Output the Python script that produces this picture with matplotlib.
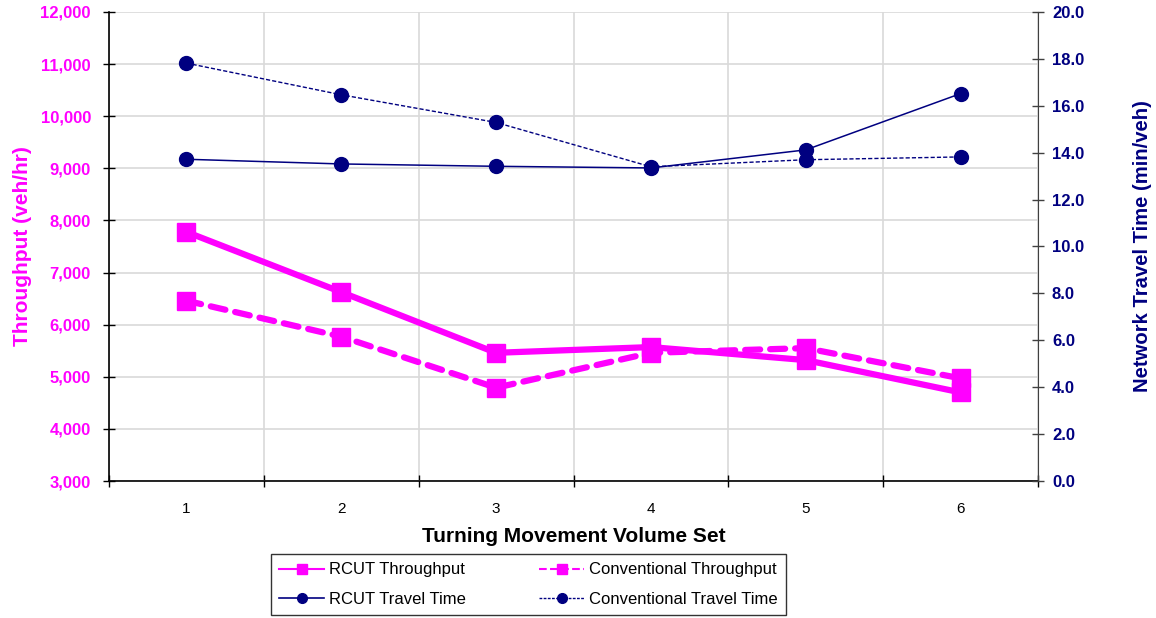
import numpy as np
import matplotlib.pyplot as plt
from matplotlib.lines import Line2D
from matplotlib.ticker import FuncFormatter

plt.rcParams['font.family'] = ['Liberation Sans', 'DejaVu Sans']

# data
volume_set = [1, 2, 3, 4, 5, 6]
rcut_throughput = [7780, 6625, 5460, 5570, 5320, 4700]
conv_throughput = [6460, 5770, 4790, 5460, 5550, 4970]
rcut_travel = [13.72, 13.52, 13.42, 13.35, 14.12, 16.52]
conv_travel = [17.82, 16.47, 15.29, 13.40, 13.70, 13.82]

magenta = '#FF00FF'
navy = '#000080'

fig = plt.figure(figsize=(11.56, 6.18), dpi=100)
ax = fig.add_axes([109/1156, 1 - 481/618, (1038 - 109)/1156, (481 - 12)/618])
ax2 = ax.twinx()

# throughput on left axis
ax.plot(volume_set, rcut_throughput, color=magenta, lw=4.5, marker='s', ms=13,
        solid_capstyle='round', zorder=3)
ax.plot(volume_set, conv_throughput, color=magenta, lw=4.5, ls=(0, (2.4, 1.6)), marker='s', ms=13,
        dash_capstyle='round', zorder=3)

# travel time on right axis
ax2.plot(volume_set, rcut_travel, color=navy, lw=1.1, marker='o', ms=10)
ax2.plot(volume_set, conv_travel, color=navy, lw=1.0, ls=(0, (3, 1.5)), marker='o', ms=10)

ax.set_xlim(0.5, 6.5)
ax.set_ylim(3000, 12000)
ax.set_yticks(np.arange(3000, 12001, 1000))
ax.yaxis.set_major_formatter(FuncFormatter(lambda v, p: f'{int(v):,}'))
ax2.set_ylim(0, 20)
ax2.set_yticks(np.arange(0, 20.1, 2))
ax2.yaxis.set_major_formatter(FuncFormatter(lambda v, p: f'{v:.1f}'))

ax.set_xticks(volume_set)
ax.set_xticks(np.arange(0.5, 6.6, 1), minor=True)
ax.tick_params(axis='x', which='major', length=0, pad=15, labelsize=11)
ax.tick_params(axis='x', which='minor', length=8, direction='inout', width=1)
ax.tick_params(axis='y', length=8, direction='inout', width=1, labelsize=12,
               labelcolor=magenta, pad=9)
ax2.tick_params(axis='y', length=8, direction='inout', width=1, labelsize=12,
                labelcolor=navy, pad=6, color='#404040')
for lab in ax.get_yticklabels() + ax2.get_yticklabels():
    lab.set_fontweight('bold')

ax.grid(True, axis='y', color='#d9d9d9', lw=1.2)
ax.grid(True, axis='x', which='minor', color='#d9d9d9', lw=1.2)
ax.set_axisbelow(True)
for s in ['top', 'right']:
    ax.spines[s].set_visible(False)
ax2.spines['top'].set_visible(False)
ax2.spines['left'].set_visible(False)
ax2.spines['bottom'].set_visible(False)
ax2.spines['right'].set_color('#404040')
ax.spines['left'].set_linewidth(1.2)
ax.spines['bottom'].set_linewidth(1.2)

ax.set_xlabel('Turning Movement Volume Set', fontsize=15, fontweight='bold', labelpad=8)
ax.set_ylabel('Throughput (veh/hr)', fontsize=15, fontweight='bold', color=magenta, labelpad=6)
ax2.set_ylabel('Network Travel Time (min/veh)', fontsize=14.6, fontweight='bold', color=navy,
               labelpad=35)

handles = [
    Line2D([], [], color=magenta, lw=1.5, marker='s', ms=7),
    Line2D([], [], color=navy, lw=1.2, marker='o', ms=7),
    Line2D([], [], color=magenta, lw=1.5, ls='--', marker='s', ms=7),
    Line2D([], [], color=navy, lw=1.0, ls=(0, (2, 1)), marker='o', ms=7),
]
labels = ['RCUT Throughput', 'RCUT Travel Time', 'Conventional Throughput', 'Conventional Travel Time']
leg = fig.legend(handles, labels, loc='center', ncol=2,
                 bbox_to_anchor=(528.5/1156, 1 - 584.5/618),
                 fontsize=12, frameon=True, fancybox=False, handlelength=2.7,
                 handletextpad=0.3, columnspacing=4.4, borderpad=0.5, labelspacing=0.85)
leg.get_frame().set_edgecolor('black')
leg.get_frame().set_linewidth(1.0)

fig.savefig('out.png', dpi=100)
